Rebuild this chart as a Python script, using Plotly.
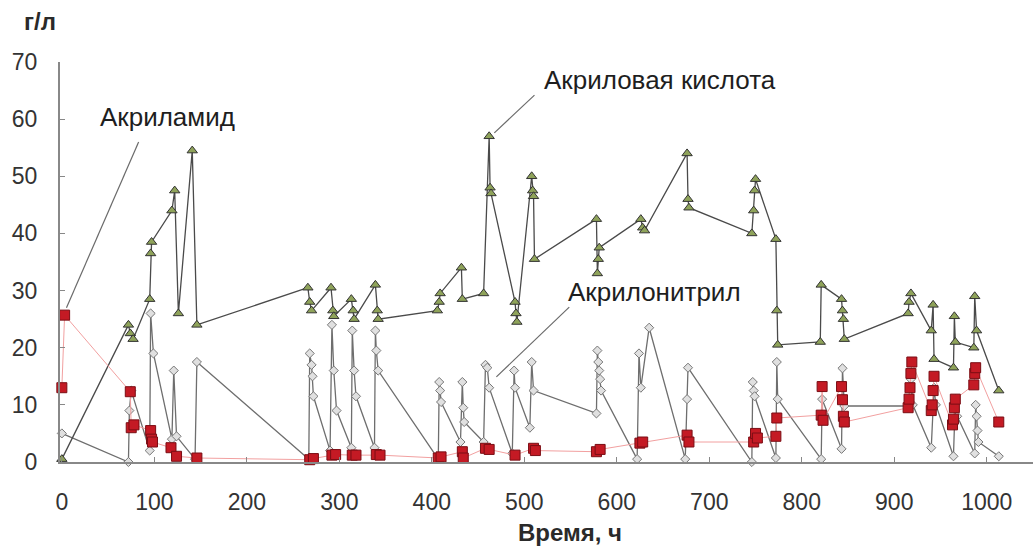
import plotly.graph_objects as go

# Время, ч / концентрация, г/л
acid_t = [0, 72, 74, 77, 95, 96, 97, 119, 122, 126, 141, 146,
          266, 268, 270, 291, 293, 294, 313, 315, 316, 339, 341, 342,
          406, 408, 409, 432, 433, 456, 462, 463, 464, 490, 491, 492,
          508, 509, 510, 511, 578, 579, 580, 581, 626, 628, 630,
          676, 677, 678, 746, 748, 749, 750, 772, 773, 774, 820, 821,
          843, 844, 845, 846, 915, 916, 918, 940, 942, 943, 964, 965, 966,
          986, 987, 989, 1013]
acid_v = [0.5, 24, 22.5, 21.5, 28.5, 36.5, 38.5, 44, 47.5, 26, 54.5, 24,
          30.5, 28, 26.5, 30.5, 26.5, 25.5, 28.5, 26.5, 25, 31, 26.5, 25,
          26.5, 28, 29.5, 34, 28.5, 29.5, 57, 48, 47, 28, 26, 24.5,
          50, 47.5, 46.5, 35.5, 42.5, 33, 35.5, 37.5, 42.5, 41, 40.5,
          54, 46, 44.5, 40, 44, 47.5, 49.5, 39, 26.5, 20.5, 21, 31,
          28.5, 26.5, 25, 21.5, 26, 28, 29.5, 23, 27.5, 18, 16.5, 25.5, 21,
          20, 29, 23, 12.5]

nitrile_t = [0, 72, 73, 75, 95, 96, 99, 119, 121, 124, 144, 146,
             267, 268, 270, 271, 272, 290, 292, 294, 297, 313, 314, 316, 318,
             338, 339, 340, 342, 407, 408, 409, 410, 431, 433, 434, 435,
             456, 458, 460, 462, 487, 489, 490, 506, 508, 510,
             578, 579, 580, 581, 582, 583, 622, 624, 626, 635,
             674, 676, 677, 746, 747, 748, 749, 772, 773, 774,
             821, 822, 843, 844, 846, 915, 918, 920, 940, 943, 945,
             964, 966, 968, 987, 988, 989, 990, 991, 1013]
nitrile_v = [5, 0, 9, 12.5, 2, 26, 19, 4, 16, 4.5, 0.5, 17.5,
             0.5, 19, 17, 15, 11.5, 2, 24, 16, 9, 2.5, 23, 16, 11.5,
             2.5, 23, 19.5, 16, 0.5, 14, 12.5, 10.5, 3.5, 14, 9.5, 7,
             3.5, 17, 16.5, 13, 1.5, 16, 13, 6, 17.5, 12.5,
             8.5, 19.5, 17.5, 16, 14.5, 12.5, 0.5, 19, 13, 23.5,
             0.5, 11, 16.5, 0, 14, 12.5, 11.5, 0.7, 17.5, 11,
             0.5, 11, 2.3, 16.4, 9.8, 9.8, 14.5, 10, 2.5, 13, 10,
             1, 11, 8, 1.5, 10, 8, 5.5, 3.5, 1]

amide_t = [0, 3, 74, 75, 78, 96, 97, 98, 118, 124, 146,
           268, 272, 292, 296, 314, 318, 340, 344,
           407, 410, 433, 434, 458, 462, 490, 510, 512,
           578, 582, 625, 628, 676, 678, 748, 750, 752, 772, 773,
           821, 822, 823, 843, 844, 845, 846,
           915, 916, 917, 918, 919, 940, 941, 942, 943,
           963, 964, 965, 966, 986, 987, 988, 1013]
amide_v = [13, 25.7, 12.3, 6, 6.5, 5.5, 4, 3.5, 2.5, 1, 0.7,
           0.4, 0.6, 1.2, 1.3, 1.2, 1.2, 1.3, 1.2,
           0.7, 0.9, 1.8, 0.7, 2.4, 2.2, 1.2, 2.4, 2,
           1.8, 2.2, 3.3, 3.5, 4.7, 3.5, 3.5, 5, 4.2, 4.5, 7.7,
           8.2, 13.2, 7.3, 13.2, 10.9, 8, 7,
           9.5, 11, 13, 15.5, 17.5, 9, 10, 12.5, 15,
           6.5, 7.5, 9.5, 11, 13.5, 15.5, 16.5, 7]

x_ticks = [0, 100, 200, 300, 400, 500, 600, 700, 800, 900, 1000]
y_ticks = [0, 10, 20, 30, 40, 50, 60, 70]

FONT = "Liberation Sans, Arial, sans-serif"

fig = go.Figure()

fig.add_trace(go.Scatter(
    x=nitrile_t, y=nitrile_v, mode="lines+markers", name="Акрилонитрил",
    line=dict(color="#6e6e6e", width=1.3),
    marker=dict(symbol="diamond", size=7, color="#e0e0e0",
                line=dict(color="#777777", width=1)),
    cliponaxis=False,
))
fig.add_trace(go.Scatter(
    x=acid_t, y=acid_v, mode="lines+markers", name="Акриловая кислота",
    line=dict(color="#4a4a4a", width=1.3),
    marker=dict(symbol="triangle-up", size=9, color="#8fa35a",
                line=dict(color="#333333", width=1)),
    cliponaxis=False,
))
fig.add_trace(go.Scatter(
    x=amide_t, y=amide_v, mode="lines+markers", name="Акриламид",
    line=dict(color="#f2a0a0", width=1),
    marker=dict(symbol="square", size=10, color="#c41a24",
                line=dict(color="#7a0d14", width=1)),
    cliponaxis=False,
))

# leader lines for the series labels
leaders = [((83, 56), (5, 27)), ((511, 64.2), (467.6, 57.6)),
           ((548.6, 27.1), (469.8, 14.9))]
for (x0, y0), (x1, y1) in leaders:
    fig.add_shape(type="line", xref="x", yref="y", x0=x0, y0=y0, x1=x1, y1=y1,
                  line=dict(color="#6a6a6a", width=1.2))

label_font = dict(family=FONT, size=26, color="#1e1e1e")
fig.add_annotation(x=114.5, y=60.4, text="Акриламид", showarrow=False, font=label_font)
fig.add_annotation(x=647, y=66.9, text="Акриловая кислота", showarrow=False, font=label_font)
fig.add_annotation(x=641, y=29.8, text="Акрилонитрил", showarrow=False, font=label_font)

title_font = dict(family=FONT, size=24, color="#2a2a2a")
fig.add_annotation(xref="paper", yref="paper", x=-0.0206, y=1.1, text="<b>г/л</b>",
                   xanchor="center", yanchor="middle", showarrow=False, font=title_font)
fig.add_annotation(xref="paper", yref="paper", x=0.524, y=-0.175, text="<b>Время, ч</b>",
                   xanchor="center", yanchor="middle", showarrow=False, font=title_font)

fig.update_layout(
    width=1033, height=549,
    margin=dict(l=60, r=0, t=62, b=87),
    paper_bgcolor="white", plot_bgcolor="white",
    showlegend=False,
    font=dict(family=FONT, color="#333333"),
)
fig.update_xaxes(
    range=[-2, 1050], tickvals=x_ticks, ticks="inside", ticklen=5, tickcolor="#888",
    showline=True, linecolor="#888", linewidth=2, showgrid=False, zeroline=False,
    tickfont=dict(family=FONT, size=23, color="#333"), ticklabelstandoff=18,
)
fig.update_yaxes(
    range=[0, 70], tickvals=y_ticks, ticks="inside", ticklen=5, tickcolor="#888",
    showline=True, linecolor="#888", linewidth=2, showgrid=False, zeroline=False,
    tickfont=dict(family=FONT, size=23, color="#333"), ticklabelstandoff=16,
)

fig.write_html("out.html")
